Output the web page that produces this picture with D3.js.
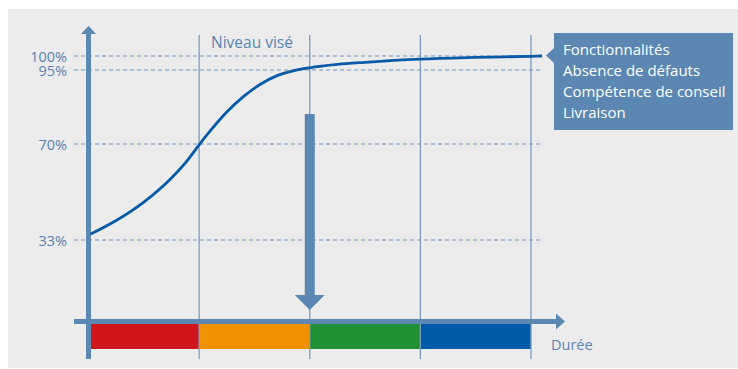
<!DOCTYPE html>
<html>
<head>
<meta charset="utf-8">
<script src="https://cdn.jsdelivr.net/npm/d3@7"></script>
<style>
  body { margin: 0; background: #fff; }
  svg { display: block; font-family: "Open Sans", sans-serif; }
</style>
</head>
<body>
<svg width="738" height="369"></svg>
<script>
// durée (in phases) and niveau atteint (%)
var durations = [0.02, 0.25, 0.5, 0.75, 0.9, 1.0, 1.1, 1.25, 1.4, 1.55, 1.7, 1.85, 2.0, 2.25, 2.5, 3.0, 3.5, 4.0, 4.1];
var levels = [35.3, 40.5, 47.6, 56.9, 64.0, 69.7, 74.4, 80.8, 86.0, 90.1, 93.0, 94.7, 95.8, 97.0, 97.75, 98.9, 99.5, 99.9, 100];

var yTicks = [33, 70, 95, 100];
var phases = [0, 1, 2, 3];
var phaseColors = ["#d0161b", "#f29100", "#229135", "#005ca9"];
var legendItems = ["Fonctionnalités", "Absence de défauts", "Compétence de conseil", "Livraison"];

var axisColor = "#5b87b3";
var textColor = "#5884b4";

var svg = d3.select("svg");

// background panel
svg.append("rect")
    .attr("x", 8).attr("y", 9)
    .attr("width", 730).attr("height", 359)
    .attr("fill", "#ececec");

// scales (the y axis is schematic, so it's piecewise)
var x = d3.scaleLinear().domain([0, 4]).range([88.5, 531]);
var y = d3.scaleLinear().domain([0, 33, 70, 95, 100]).range([322, 240, 144, 70, 56]);

// colored phases under the x axis
svg.selectAll("rect.phase")
    .data(phases)
    .enter()
    .append("rect")
    .attr("class", "phase")
    .attr("x", function(d){ return d == 0 ? x(d) + 2 : x(d); })
    .attr("y", 324)
    .attr("width", function(d){ return d == 0 ? x(d + 1) - x(d) - 2 : x(d + 1) - x(d); })
    .attr("height", 25)
    .attr("fill", function(d, i){ return phaseColors[i]; });

// vertical grid lines
svg.selectAll("line.vgrid")
    .data([1, 2, 3, 4])
    .enter()
    .append("line")
    .attr("class", "vgrid")
    .attr("x1", function(d){ return x(d); })
    .attr("x2", function(d){ return x(d); })
    .attr("y1", 35).attr("y2", 359)
    .attr("stroke", "#7b9cc3")
    .attr("stroke-width", 1.3);

// dashed horizontal lines
svg.selectAll("line.hgrid")
    .data(yTicks)
    .enter()
    .append("line")
    .attr("class", "hgrid")
    .attr("x1", 74).attr("x2", 543)
    .attr("y1", function(d){ return y(d); })
    .attr("y2", function(d){ return y(d); })
    .attr("stroke", "#6f95c0")
    .attr("stroke-width", 1.2)
    .attr("stroke-dasharray", "4,3");

// tick labels
svg.selectAll("text.tick")
    .data(yTicks)
    .enter()
    .append("text")
    .attr("class", "tick")
    .attr("x", 67)
    .attr("y", function(d){ return y(d) + 6; })
    .attr("text-anchor", "end")
    .attr("font-size", 14.5)
    .attr("fill", textColor)
    .text(function(d){ return d + "%"; });

// y axis with arrow
svg.append("line")
    .attr("x1", x(0)).attr("x2", x(0))
    .attr("y1", 33).attr("y2", 359)
    .attr("stroke", axisColor).attr("stroke-width", 5);
svg.append("path")
    .attr("d", "M" + (x(0) - 7.5) + ",34L" + x(0) + ",26L" + (x(0) + 7.5) + ",34Z")
    .attr("fill", axisColor);

// x axis with arrow
svg.append("line")
    .attr("x1", 74).attr("x2", 557)
    .attr("y1", 321.5).attr("y2", 321.5)
    .attr("stroke", axisColor).attr("stroke-width", 5);
svg.append("path")
    .attr("d", "M556,313.5L565,321.5L556,329.5Z")
    .attr("fill", axisColor);

// the curve
var line = d3.line()
    .x(function(d){ return x(d[0]); })
    .y(function(d){ return y(d[1]); })
    .curve(d3.curveMonotoneX);

svg.append("path")
    .datum(d3.zip(durations, levels))
    .attr("d", line)
    .attr("fill", "none")
    .attr("stroke", "#085aa6")
    .attr("stroke-width", 2.8);

// big arrow down to the end of phase 2
var ax = x(2);
svg.append("rect")
    .attr("x", ax - 5).attr("y", 114)
    .attr("width", 10).attr("height", 182)
    .attr("fill", axisColor);
svg.append("path")
    .attr("d", "M" + (ax - 15) + ",295L" + (ax + 15) + ",295L" + ax + ",310Z")
    .attr("fill", axisColor);

svg.append("text")
    .attr("x", 211).attr("y", 47.5)
    .attr("font-size", 15.5)
    .attr("fill", textColor)
    .text("Niveau visé");

svg.append("text")
    .attr("x", 551).attr("y", 350)
    .attr("font-size", 14.5)
    .attr("fill", textColor)
    .text("Durée");

// legend box
svg.append("rect")
    .attr("x", 554).attr("y", 33)
    .attr("width", 179).attr("height", 97)
    .attr("fill", axisColor);
svg.append("path")
    .attr("d", "M554,48L546,55.5L554,63Z")
    .attr("fill", axisColor);

svg.selectAll("text.legend")
    .data(legendItems)
    .enter()
    .append("text")
    .attr("class", "legend")
    .attr("x", 563)
    .attr("y", function(d, i){ return 54.5 + i * 21; })
    .attr("font-size", 15)
    .attr("fill", "#fff")
    .text(function(d){ return d; });
</script>
</body>
</html>
